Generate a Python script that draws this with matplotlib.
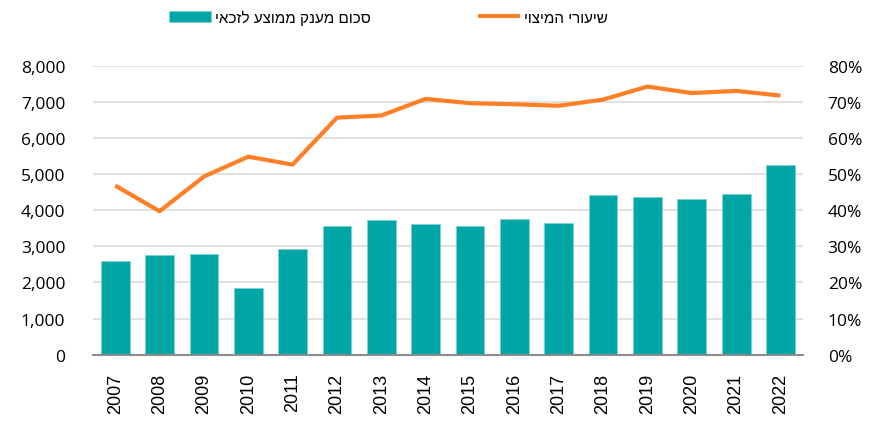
import numpy as np
import matplotlib.pyplot as plt
from matplotlib.ticker import FuncFormatter

years = ['2007', '2008', '2009', '2010', '2011', '2012', '2013', '2014',
         '2015', '2016', '2017', '2018', '2019', '2020', '2021', '2022']
grant = [2590, 2770, 2780, 1850, 2920, 3575, 3720, 3620,
         3555, 3750, 3650, 4425, 4375, 4315, 4460, 5255]
takeup = [46.8, 39.7, 49.3, 54.8, 52.6, 65.6, 66.2, 70.8,
          69.6, 69.3, 68.9, 70.6, 74.2, 72.4, 73.0, 71.7]

label_grant = 'סכום מענק ממוצע לזכאי'
label_rate = 'שיעורי המיצוי'

teal = '#00A5A5'
orange = '#FF7F27'

fig = plt.figure(figsize=(8.83, 4.27), dpi=100)
ax = fig.add_axes([0.1054, 0.167, 0.8036, 0.677])
x = np.arange(len(years))

bars = ax.bar(x, grant, width=0.65, color=teal, zorder=2,
              edgecolor='#7fd2d2', linewidth=0.6, label=label_grant[::-1])
ax.set_xlim(-0.5, len(years) - 0.5)
ax.set_ylim(0, 8000)
ax.set_yticks(range(0, 8001, 1000))
ax.yaxis.set_major_formatter(FuncFormatter(lambda v, p: f'{int(v):,}'))
ax.grid(axis='y', color='#d9d9d9', linewidth=1.1, zorder=0)
ax.set_axisbelow(True)
ax.set_xticks(x)
ax.set_xticklabels(years, rotation=90, fontsize=13, family='Liberation Sans')
for lab in ax.get_yticklabels():
    lab.set_family('Open Sans')
    lab.set_fontsize(12.5)
ax.tick_params(axis='y', length=0, pad=20)
ax.tick_params(axis='x', length=0, pad=13)
for s in ['top', 'right', 'left']:
    ax.spines[s].set_visible(False)
ax.spines['bottom'].set_color('#8c8c8c')
ax.spines['bottom'].set_linewidth(1.5)
ax.spines['bottom'].set_zorder(3)

ax2 = ax.twinx()
line, = ax2.plot(x, takeup, color=orange, linewidth=3, zorder=3,
                 solid_capstyle='butt', label=label_rate[::-1])
ax2.set_ylim(0, 80)
ax2.set_yticks(range(0, 81, 10))
ax2.yaxis.set_major_formatter(FuncFormatter(lambda v, p: f'{int(v)}%'))
for lab in ax2.get_yticklabels():
    lab.set_family('Open Sans')
    lab.set_fontsize(12.5)
ax2.tick_params(axis='y', length=0, pad=18)
for s in ax2.spines.values():
    s.set_visible(False)

fig.legend([bars, line], [label_grant[::-1], label_rate[::-1]],
           loc='center', bbox_to_anchor=(0.44, 0.958), ncol=2, frameon=False,
           prop={'family': ['Liberation Sans', 'DejaVu Sans'], 'size': 11},
           handlelength=2.75, handleheight=0.75, columnspacing=7.0,
           handletextpad=0.25)

fig.savefig('out.png', dpi=100)
